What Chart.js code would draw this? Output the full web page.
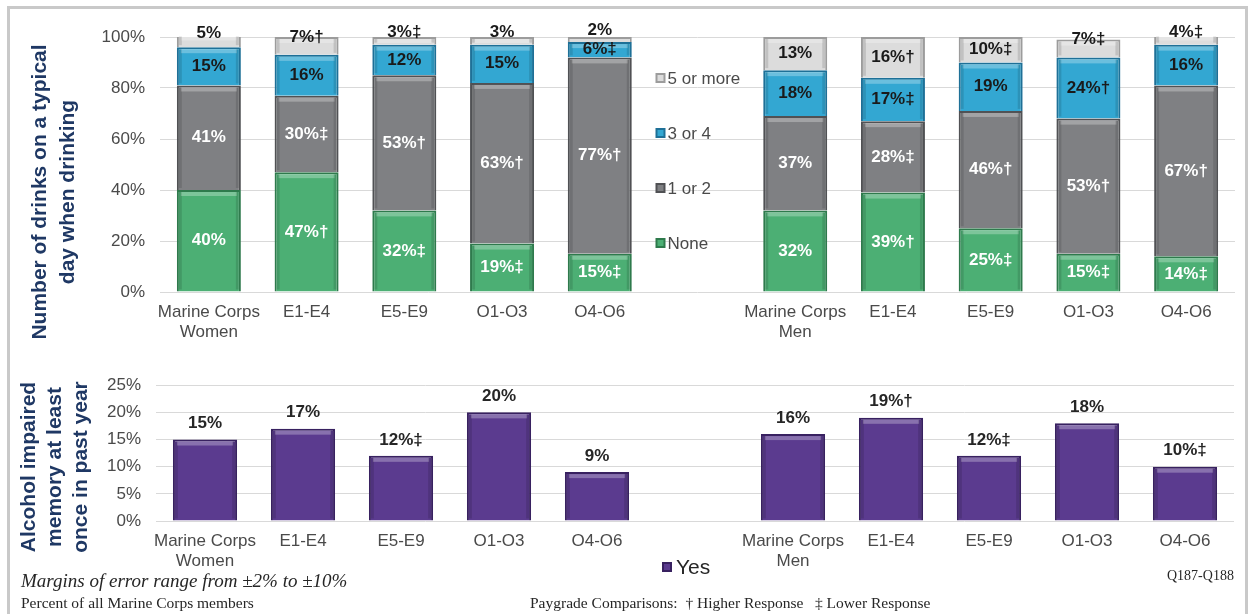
<!DOCTYPE html>
<html>
<head>
<meta charset="utf-8">
<script src="https://cdn.jsdelivr.net/npm/chart.js@4/dist/chart.umd.min.js"></script>
<style>
    body { margin: 0; background: #fff; width: 1249px; height: 614px; overflow: hidden; position: relative; font-family: "Liberation Sans", Arial, sans-serif; }
    #frame { position: absolute; left: 7px; top: 6px; width: 1241px; height: 640px; border: 3px solid #c9c9c9; box-sizing: border-box; }
    #topWrap { position: absolute; left: 0; top: 0; width: 1249px; height: 350px; }
    #bottomWrap { position: absolute; left: 0; top: 360px; width: 1249px; height: 254px; }
    .ytitle { position: absolute; color: #1f3864; font-weight: bold; font-size: 21px; text-align: center; white-space: nowrap; transform: translate(-50%, -50%) rotate(-90deg); }
    .note { position: absolute; font-family: "Liberation Serif", "Times New Roman", serif; color: #262626; white-space: pre; line-height: 1; }
</style>
</head>
<body>
<div id="frame"></div>
<div id="topWrap"><canvas id="drinksChart"></canvas></div>
<div id="bottomWrap"><canvas id="memoryChart"></canvas></div>

<div class="ytitle" style="left:53px; top:192px; line-height:28px;">Number of drinks on a typical<br>day when drinking</div>
<div class="ytitle" style="left:54px; top:467px; line-height:26px;">Alcohol impaired<br>memory at least<br>once in past year</div>

<div class="note" style="left:21px; top:571px; font-size:19px; font-style:italic;">Margins of error range from ±2% to ±10%</div>
<div class="note" style="left:21px; top:595px; font-size:15.5px;">Percent of all Marine Corps members</div>
<div class="note" style="left:530px; top:595px; font-size:15.5px;">Paygrade Comparisons:  † Higher Response   ‡ Lower Response</div>
<div class="note" style="left:1167px; top:569px; font-size:14px;">Q187-Q188</div>

<script>
// categories (index 5 is the empty gap that holds the legend)
const categories = [["Marine Corps", "Women"], "E1-E4", "E5-E9", "O1-O3", "O4-O6", "",
    ["Marine Corps", "Men"], "E1-E4", "E5-E9", "O1-O3", "O4-O6"];

// drinks on a typical day
const noneVals      = [40, 47, 32, 19, 15, null, 32, 39, 25, 15, 14];
const oneTwoVals    = [41, 30, 53, 63, 77, null, 37, 28, 46, 53, 67];
const threeFourVals = [15, 16, 12, 15, 6, null, 18, 17, 19, 24, 16];
const fivePlusVals  = [5, 7, 3, 3, 2, null, 13, 16, 10, 7, 4];

const noneMarks      = ["", "†", "‡", "‡", "‡", "", "", "†", "‡", "‡", "‡"];
const oneTwoMarks    = ["", "‡", "†", "†", "†", "", "", "‡", "†", "†", "†"];
const threeFourMarks = ["", "", "", "", "‡", "", "", "‡", "", "†", ""];
const fivePlusMarks  = ["", "†", "‡", "", "", "", "", "†", "‡", "‡", "‡"];

const topTicks = [0, 20, 40, 60, 80, 100];

// alcohol impaired memory
const impairedVals  = [15, 17, 12, 20, 9, null, 16, 19, 12, 18, 10];
const impairedMarks = ["", "", "‡", "", "", "", "", "†", "‡", "", "‡"];
const bottomTicks = [0, 5, 10, 15, 20, 25];

const tickColor = "#4a4a4a";
const gridColor = "#d9d9d9";
const labelFont = "bold 17px 'Liberation Sans', Arial, sans-serif";

// light band on top of each bar, like the bevel in the original
function drawBevel(ctx, bar) {
    const top = Math.min(bar.y, bar.base);
    const h = Math.abs(bar.base - bar.y);
    if (h < 6) return;
    const left = bar.x - bar.width / 2;
    ctx.fillStyle = "rgba(255,255,255,0.28)";
    ctx.fillRect(left + 4, top + 2, bar.width - 8, 4);
    ctx.fillStyle = "rgba(0,0,0,0.12)";
    ctx.fillRect(left + 2, top + 2, 3, h - 4);
    ctx.fillRect(left + bar.width - 5, top + 2, 3, h - 4);
}

const drinksPlugin = {
    id: "drinksPlugin",
    afterDatasetsDraw(chart) {
        const ctx = chart.ctx;
        ctx.save();
        chart.data.datasets.forEach((ds, i) => {
            chart.getDatasetMeta(i).data.forEach((bar, j) => {
                if (ds.data[j] == null) return;
                drawBevel(ctx, bar);
            });
        });
        ctx.font = labelFont;
        ctx.textAlign = "center";
        ctx.textBaseline = "middle";
        chart.data.datasets.forEach((ds, i) => {
            chart.getDatasetMeta(i).data.forEach((bar, j) => {
                const v = ds.data[j];
                if (v == null) return;
                let y = (Math.max(bar.y, chart.chartArea.top) + bar.base) / 2;
                if (i === 3 && v < 9) y -= 9;
                ctx.fillStyle = ds.labelColor;
                ctx.fillText(v + "%" + ds.marks[j], bar.x, y);
            });
        });

        // legend sits in the empty category
        const x = chart.scales.x.getPixelForValue(5);
        ctx.font = "17px 'Liberation Sans', Arial, sans-serif";
        ctx.textAlign = "left";
        const order = [3, 2, 1, 0];
        order.forEach((i, k) => {
            const ds = chart.data.datasets[i];
            const y = chart.chartArea.top + 41 + k * 55;
            ctx.fillStyle = ds.borderColor;
            ctx.fillRect(x - 42, y - 5, 10, 10);
            ctx.fillStyle = ds.backgroundColor;
            ctx.fillRect(x - 40, y - 3, 6, 6);
            ctx.fillStyle = tickColor;
            ctx.fillText(ds.label, x - 30, y + 1);
        });
        ctx.restore();
    }
};

const memoryPlugin = {
    id: "memoryPlugin",
    afterDatasetsDraw(chart) {
        const ctx = chart.ctx;
        const ds = chart.data.datasets[0];
        ctx.save();
        chart.getDatasetMeta(0).data.forEach((bar, j) => {
            if (ds.data[j] == null) return;
            drawBevel(ctx, bar);
        });
        ctx.font = labelFont;
        ctx.textAlign = "center";
        ctx.textBaseline = "middle";
        ctx.fillStyle = "#262626";
        chart.getDatasetMeta(0).data.forEach((bar, j) => {
            const v = ds.data[j];
            if (v == null) return;
            ctx.fillText(v + "%" + impairedMarks[j], bar.x, bar.y - 16);
        });

        const x = chart.scales.x.getPixelForValue(5);
        const y = chart.chartArea.bottom + 46;
        ctx.fillStyle = ds.borderColor;
        ctx.fillRect(x - 33, y - 5, 10, 10);
        ctx.fillStyle = ds.backgroundColor;
        ctx.fillRect(x - 31, y - 3, 6, 6);
        ctx.font = "21px 'Liberation Sans', Arial, sans-serif";
        ctx.textAlign = "left";
        ctx.fillStyle = "#262626";
        ctx.fillText(ds.label, x - 19, y + 1);
        ctx.restore();
    }
};

function xAxis(height) {
    return {
        stacked: true,
        grid: { display: false, drawTicks: false },
        border: { display: false },
        ticks: {
            color: tickColor,
            font: { size: 17, family: "'Liberation Sans', Arial, sans-serif", lineHeight: 1.2 },
            padding: 10,
            maxRotation: 0,
            autoSkip: false
        },
        afterFit: scale => { scale.height = height; }
    };
}

function yAxis(max, ticks, width) {
    return {
        stacked: true,
        min: 0,
        max: max,
        grid: { color: gridColor, drawTicks: false },
        border: { display: false },
        ticks: {
            color: tickColor,
            font: { size: 17, family: "'Liberation Sans', Arial, sans-serif" },
            padding: 15,
            callback: v => v + "%"
        },
        afterBuildTicks: scale => { scale.ticks = ticks.map(v => ({ value: v })); },
        afterFit: scale => { scale.width = width; }
    };
}

const drinksCtx = document.getElementById("drinksChart");

new Chart(drinksCtx, {
    type: "bar",
    data: {
        labels: categories,
        datasets: [
            { label: "None", data: noneVals, marks: noneMarks, labelColor: "#ffffff",
              backgroundColor: "#4caf74", borderColor: "#2e7a4c" },
            { label: "1 or 2", data: oneTwoVals, marks: oneTwoMarks, labelColor: "#ffffff",
              backgroundColor: "#7f8083", borderColor: "#505154" },
            { label: "3 or 4", data: threeFourVals, marks: threeFourMarks, labelColor: "#1a1a1a",
              backgroundColor: "#33a7d2", borderColor: "#1e7097" },
            { label: "5 or more", data: fivePlusVals, marks: fivePlusMarks, labelColor: "#1a1a1a",
              backgroundColor: "#dcdcdc", borderColor: "#9c9c9c" }
        ]
    },
    options: {
        responsive: true,
        maintainAspectRatio: false,
        animation: false,
        layout: { padding: { top: 37, right: 14, left: 0, bottom: 0 } },
        datasets: { bar: { categoryPercentage: 1, barPercentage: 0.655, borderWidth: 2 } },
        plugins: {
            legend: { display: false },
            tooltip: { enabled: false }
        },
        scales: {
            x: xAxis(58),
            y: yAxis(100, topTicks, 160)
        }
    },
    plugins: [drinksPlugin]
});

const memoryCtx = document.getElementById("memoryChart");

new Chart(memoryCtx, {
    type: "bar",
    data: {
        labels: categories,
        datasets: [{
            label: "Yes",
            data: impairedVals,
            backgroundColor: "#5b3b8f",
            borderColor: "#382160",
            borderWidth: 2
        }]
    },
    options: {
        responsive: true,
        maintainAspectRatio: false,
        animation: false,
        layout: { padding: { top: 21, right: 15, left: 0, bottom: 0 } },
        datasets: { bar: { categoryPercentage: 1, barPercentage: 0.655 } },
        plugins: {
            legend: { display: false },
            tooltip: { enabled: false }
        },
        scales: {
            x: xAxis(93),
            y: yAxis(25, bottomTicks, 156)
        }
    },
    plugins: [memoryPlugin]
});
</script>
</body>
</html>
